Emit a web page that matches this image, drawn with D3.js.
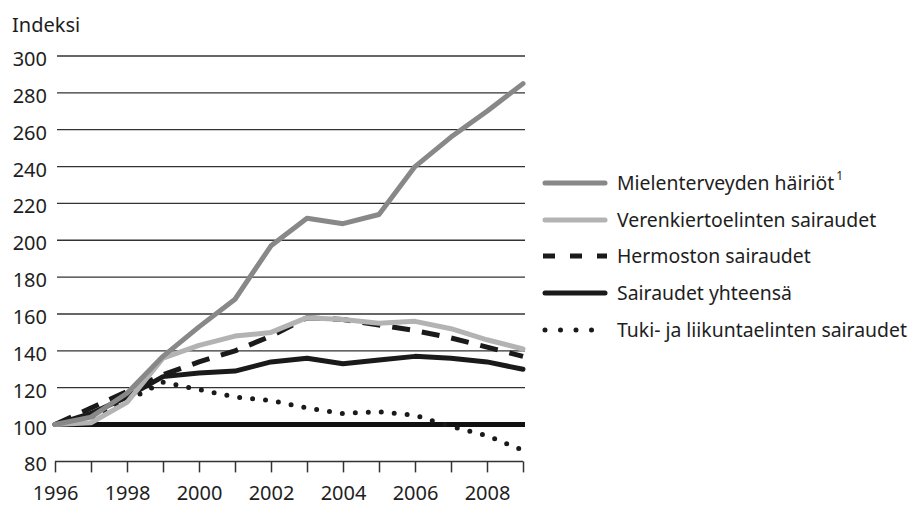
<!DOCTYPE html>
<html><head><meta charset="utf-8">
<script src="https://cdn.jsdelivr.net/npm/d3@7"></script>
<style>body{margin:0;background:#fff}text{font-family:"Noto Sans",sans-serif;fill:#1e1e1e}</style>
</head><body><svg id="c" width="909" height="505"></svg>
<script>
const years = [1996,1997,1998,1999,2000,2001,2002,2003,2004,2005,2006,2007,2008,2009];
const mielenterveys = [100,104,117,137,153,168,197,212,209,214,240,256,270,285];
const verenkierto = [100,101,112,136,143,148,150,158,157,155,156,152,146,141];
const hermosto = [100,109,118,127,134,140,148,158,157,154,151,147,142,137];
const yhteensa = [100,106,115,126,128,129,134,136,133,135,137,136,134,130];
const tuki = [100,104,113,123,119,115,113,109,106,107,105,99,94,86];
const yTicks = [80,100,120,140,160,180,200,220,240,260,280,300];
const xTickLabels = [1996,1998,2000,2002,2004,2006,2008];
const seriesNames = ["Mielenterveyden häiriöt","Verenkiertoelinten sairaudet","Hermoston sairaudet","Sairaudet yhteensä","Tuki- ja liikuntaelinten sairaudet"];
const seriesValues = [mielenterveys, verenkierto, hermosto, yhteensa, tuki];

const styles = [
  {stroke:"#888888", width:5, dash:null, legDash:null, cap:"round"},
  {stroke:"#b3b3b3", width:5, dash:null, legDash:null, cap:"round"},
  {stroke:"#1a1a1a", width:5, dash:"18,12", legDash:"12,15", cap:"butt"},
  {stroke:"#1a1a1a", width:5, dash:null, legDash:null, cap:"round"},
  {stroke:"#1a1a1a", width:5, dash:"0,13", legDash:"0,15.5", cap:"round"}
];
const FS = 20, LFS = 19.4;
const svg = d3.select("#c");
const x = d3.scaleLinear().domain([1996,2009]).range([55,523]);
const y = d3.scaleLinear().domain([80,300]).range([461.4,56]);

// gridlines
svg.append("g").selectAll("line").data(yTicks.filter(v=>v>100)).join("line")
  .attr("x1",x(1996)+2).attr("x2",525).attr("y1",d=>y(d)).attr("y2",d=>y(d))
  .attr("stroke","#333").attr("stroke-width",1.3);
// baseline 100
svg.append("line").attr("x1",x(1996)).attr("x2",525).attr("y1",y(100)).attr("y2",y(100))
  .attr("stroke","#111").attr("stroke-width",5);

// y labels
svg.append("g").selectAll("text").data(yTicks).join("text")
  .attr("x",47).attr("y",d=>y(d)+10).attr("text-anchor","end").attr("font-size",FS).text(d=>d);
svg.append("text").attr("x",12).attr("y",32).attr("font-size",FS).text("Indeksi");

// x axis
const xAxis = d3.axisBottom(x).tickValues(years).tickSize(11).tickFormat(d=>xTickLabels.includes(d)?d:"");
const gx = svg.append("g").attr("transform",`translate(0,${y(80)})`).call(xAxis);
gx.select(".domain").attr("stroke","#333").attr("stroke-width",1.5).attr("d",`M${x(1996)},0H${x(2009)}`);
gx.selectAll(".tick line").attr("stroke","#333").attr("stroke-width",1.5);
gx.selectAll(".tick text").attr("font-size",FS).attr("font-family","Noto Sans").attr("fill","#1e1e1e")
  .attr("y",38.5).attr("dy",0);

// lines
const line = d3.line().x((d,i)=>x(years[i])).y(d=>y(d));
const order = [4,3,2,1,0];
order.forEach(k=>{
  const s = styles[k];
  svg.append("path").datum(seriesValues[k]).attr("d",line).attr("fill","none")
    .attr("stroke",s.stroke).attr("stroke-width",s.width).attr("stroke-linecap",s.cap)
    .attr("stroke-linejoin","round").attr("stroke-dasharray",s.dash);
});

// legend
const legY = [183,220,256,293,330];
seriesNames.forEach((n,k)=>{
  const s = styles[k];
  const round = s.cap==="round";
  svg.append("line").attr("x1",round?545:543).attr("x2",round?605:607).attr("y1",legY[k]).attr("y2",legY[k])
    .attr("stroke",s.stroke).attr("stroke-width",s.width).attr("stroke-linecap",s.cap)
    .attr("stroke-dasharray",s.legDash);
  const t = svg.append("text").attr("x",617).attr("y",legY[k]+7).attr("font-size",LFS).text(n);
  if(k===0) t.append("tspan").attr("font-size",12).attr("dy",-10).attr("dx",2).text("1");
});
</script></body></html>
